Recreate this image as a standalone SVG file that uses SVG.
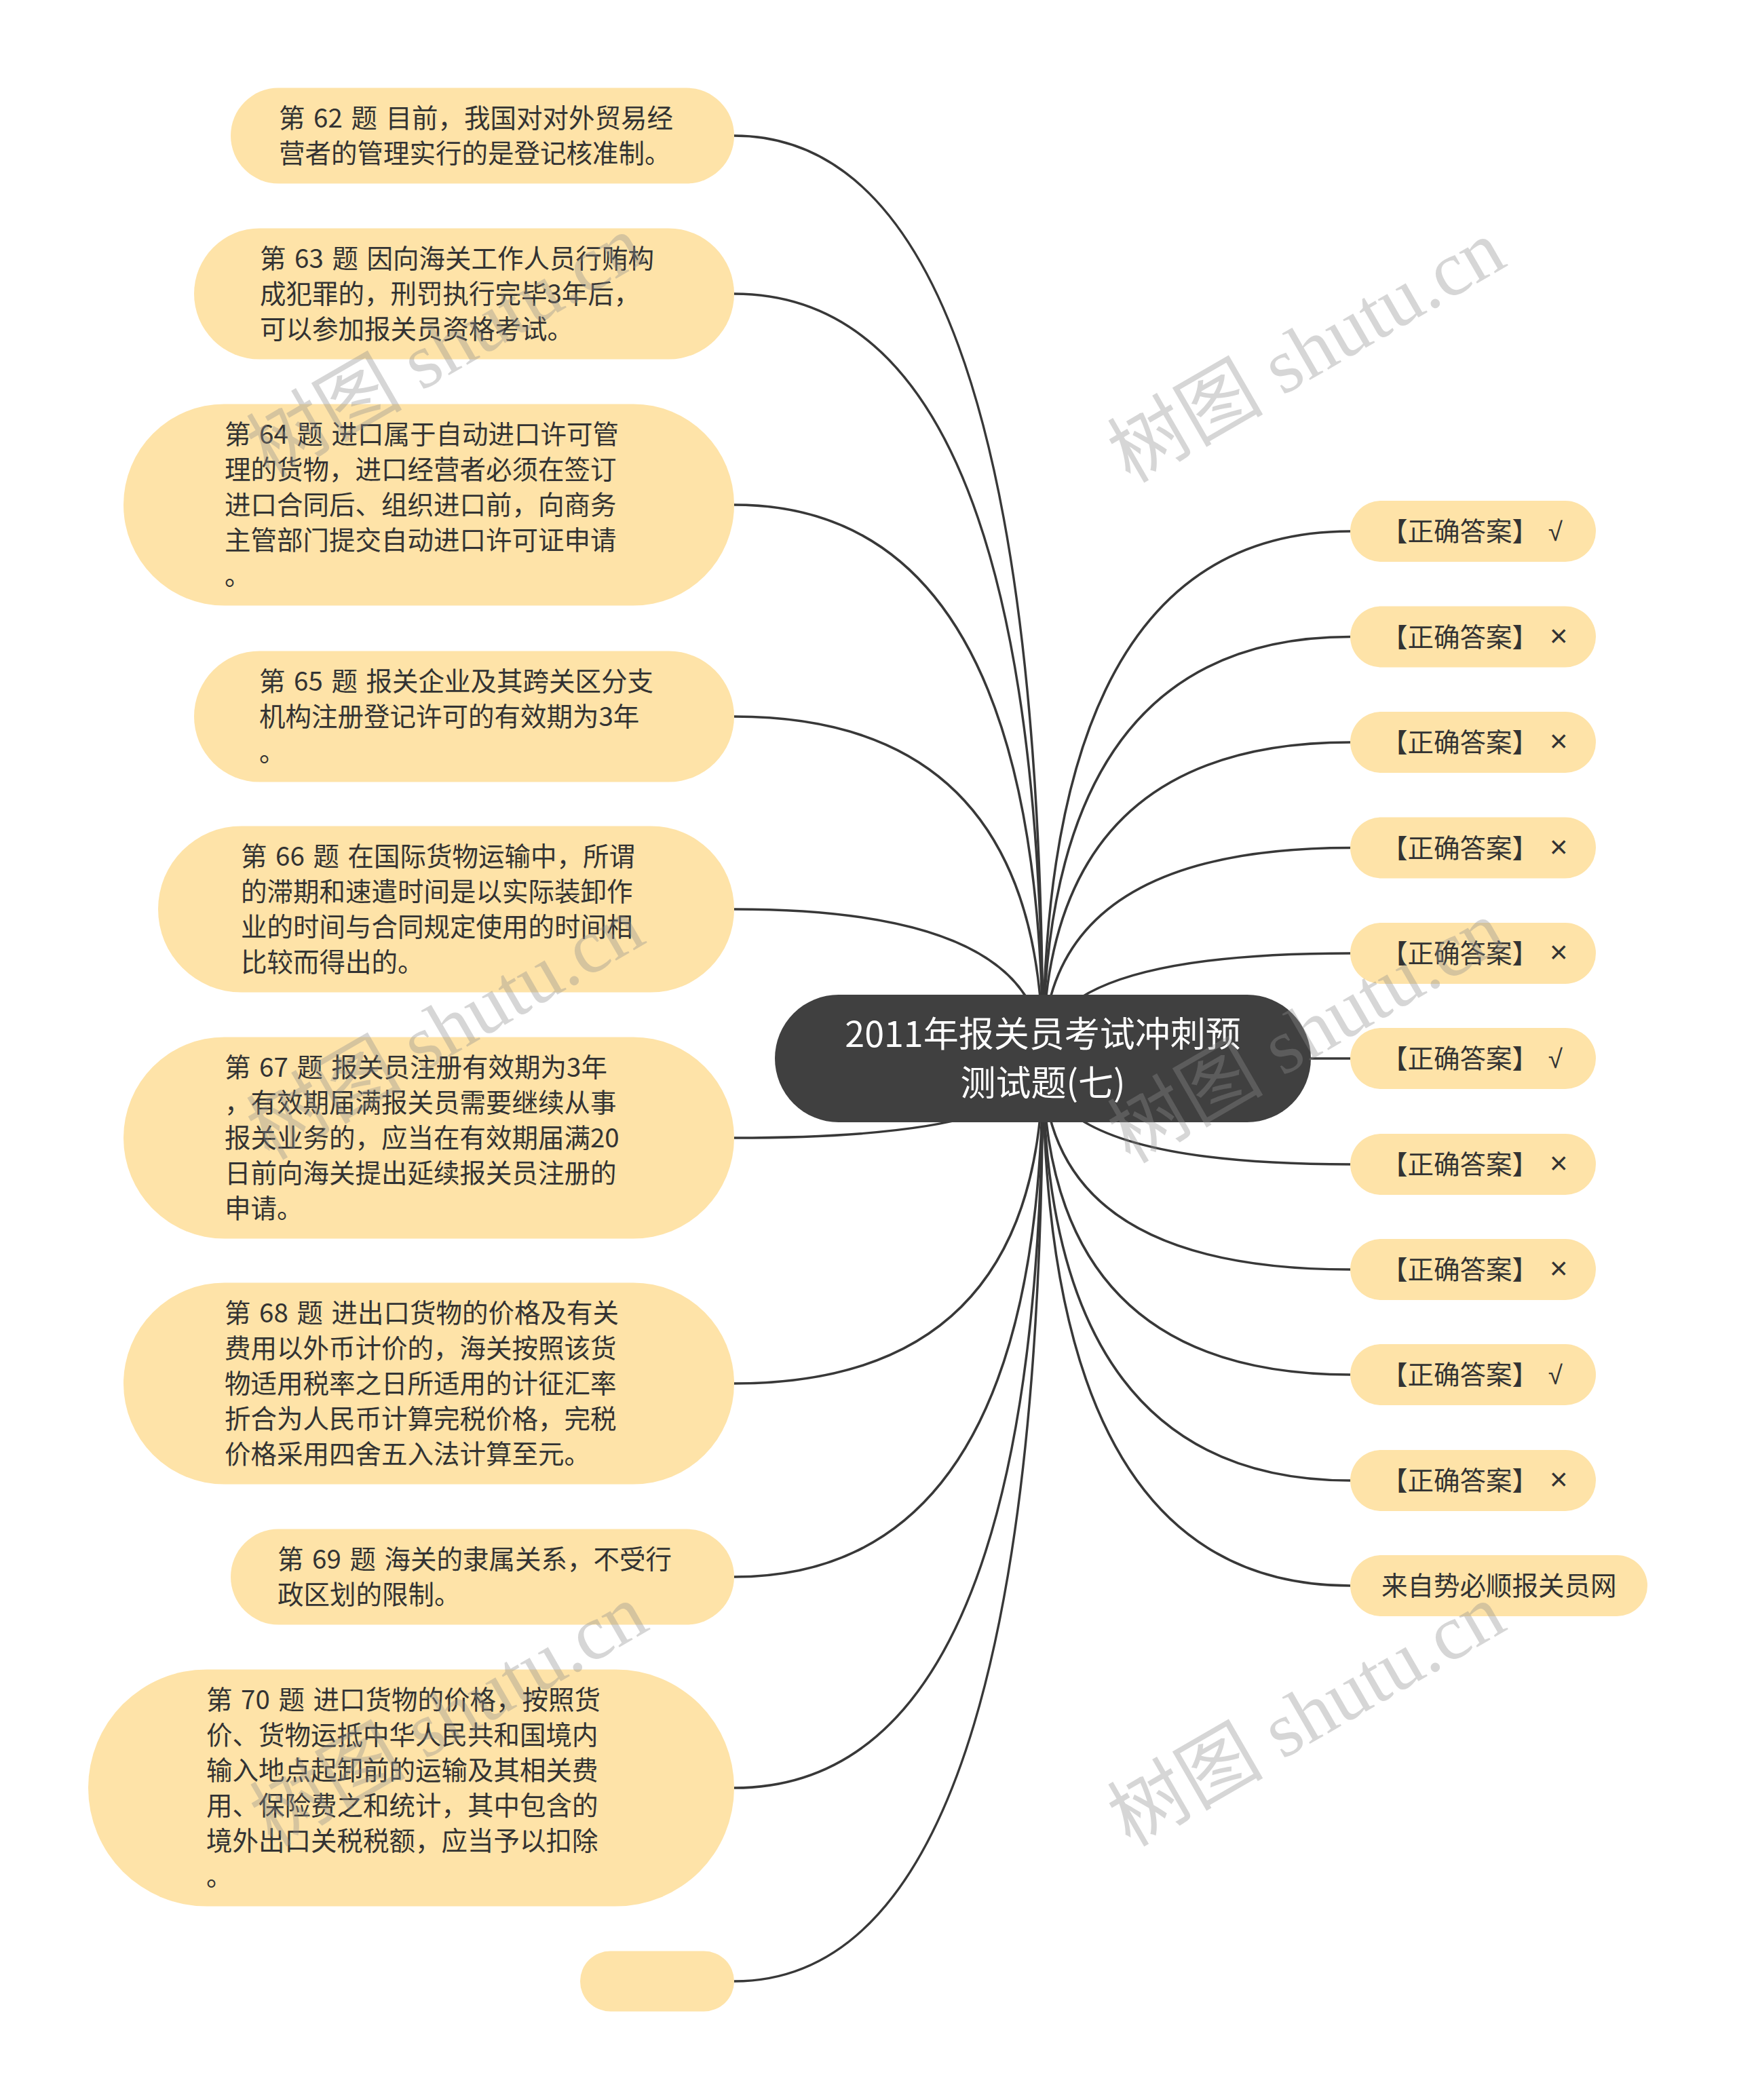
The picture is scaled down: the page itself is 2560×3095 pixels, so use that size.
<svg xmlns="http://www.w3.org/2000/svg" width="2560" height="3095" viewBox="0 0 2560 3095">
<style>
.bg{fill:#ffffff}
.sub{fill:#fee3a8}
.root{fill:#404040}
.t{font-family:"Noto Sans CJK SC","Noto Sans",sans-serif;font-size:38.5px;fill:#333333;word-spacing:4px}
.m{font-family:"Liberation Sans","DejaVu Sans",sans-serif}
.x{font-family:"Liberation Sans","DejaVu Sans",sans-serif;font-size:46px}
.rt{font-family:"Noto Sans CJK SC","Noto Sans",sans-serif;font-size:52px;fill:#ffffff;text-anchor:middle}
.c{fill:none;stroke:#383838;stroke-width:3.5}
.wm{font-family:"Liberation Serif","Noto Sans CJK SC",serif;font-size:115px;fill:#8c8c8c;fill-opacity:0.36;text-anchor:middle}
</style>
<rect class="bg" x="0" y="0" width="2560" height="3095"/>
<g id="connectors">
<path class="c" d="M1537,1560 Q1537,200 1082,200"/>
<path class="c" d="M1537,1560 Q1537,433 1082,433"/>
<path class="c" d="M1537,1560 Q1537,744 1082,744"/>
<path class="c" d="M1537,1560 Q1537,1056 1082,1056"/>
<path class="c" d="M1537,1560 Q1537,1340 1082,1340"/>
<path class="c" d="M1537,1560 Q1537,1677 1082,1677"/>
<path class="c" d="M1537,1560 Q1537,2039 1082,2039"/>
<path class="c" d="M1537,1560 Q1537,2324 1082,2324"/>
<path class="c" d="M1537,1560 Q1537,2635 1082,2635"/>
<path class="c" d="M1537,1560 Q1537,2920 1082,2920"/>
<path class="c" d="M1537,1560 Q1537,783 1990,783"/>
<path class="c" d="M1537,1560 Q1537,938.5 1990,938.5"/>
<path class="c" d="M1537,1560 Q1537,1094 1990,1094"/>
<path class="c" d="M1537,1560 Q1537,1249.5 1990,1249.5"/>
<path class="c" d="M1537,1560 Q1537,1405 1990,1405"/>
<path class="c" d="M1537,1560 L1990,1560"/>
<path class="c" d="M1537,1560 Q1537,1716 1990,1716"/>
<path class="c" d="M1537,1560 Q1537,1871 1990,1871"/>
<path class="c" d="M1537,1560 Q1537,2026 1990,2026"/>
<path class="c" d="M1537,1560 Q1537,2182 1990,2182"/>
<path class="c" d="M1537,1560 Q1537,2337 1990,2337"/>
</g>
<g id="root">
<rect class="root" x="1142" y="1466" width="790" height="188" rx="94"/>
<text class="rt"><tspan x="1537" y="1543">2011年报关员考试冲刺预</tspan><tspan x="1537" y="1615">测试题(七)</tspan></text>
</g>
<g id="n62">
<rect class="sub" x="340" y="129.5" width="742" height="141" rx="70.5"/>
<text class="t"><tspan x="411" y="188">第 62 题 目前，我国对对外贸易经</tspan><tspan x="411" y="240">营者的管理实行的是登记核准制。</tspan></text>
</g>
<g id="n63">
<rect class="sub" x="286" y="336.5" width="796" height="193" rx="96.5"/>
<text class="t"><tspan x="383" y="395">第 63 题 因向海关工作人员行贿构</tspan><tspan x="383" y="447">成犯罪的，刑罚执行完毕3年后，</tspan><tspan x="383" y="499">可以参加报关员资格考试。</tspan></text>
</g>
<g id="n64">
<rect class="sub" x="182" y="595.5" width="900" height="297" rx="148.5"/>
<text class="t"><tspan x="331" y="654">第 64 题 进口属于自动进口许可管</tspan><tspan x="331" y="706">理的货物，进口经营者必须在签订</tspan><tspan x="331" y="758">进口合同后、组织进口前，向商务</tspan><tspan x="331" y="810">主管部门提交自动进口许可证申请</tspan><tspan x="331" y="862">。</tspan></text>
</g>
<g id="n65">
<rect class="sub" x="286" y="959.5" width="796" height="193" rx="96.5"/>
<text class="t"><tspan x="382" y="1018">第 65 题 报关企业及其跨关区分支</tspan><tspan x="382" y="1070">机构注册登记许可的有效期为3年</tspan><tspan x="382" y="1122">。</tspan></text>
</g>
<g id="n66">
<rect class="sub" x="233" y="1217.5" width="849" height="245" rx="122.5"/>
<text class="t"><tspan x="355" y="1276">第 66 题 在国际货物运输中，所谓</tspan><tspan x="355" y="1328">的滞期和速遣时间是以实际装卸作</tspan><tspan x="355" y="1380">业的时间与合同规定使用的时间相</tspan><tspan x="355" y="1432">比较而得出的。</tspan></text>
</g>
<g id="n67">
<rect class="sub" x="182" y="1528.5" width="900" height="297" rx="148.5"/>
<text class="t"><tspan x="331" y="1587">第 67 题 报关员注册有效期为3年</tspan><tspan x="331" y="1639">，有效期届满报关员需要继续从事</tspan><tspan x="331" y="1691">报关业务的，应当在有效期届满20</tspan><tspan x="331" y="1743">日前向海关提出延续报关员注册的</tspan><tspan x="331" y="1795">申请。</tspan></text>
</g>
<g id="n68">
<rect class="sub" x="182" y="1890.5" width="900" height="297" rx="148.5"/>
<text class="t"><tspan x="331" y="1949">第 68 题 进出口货物的价格及有关</tspan><tspan x="331" y="2001">费用以外币计价的，海关按照该货</tspan><tspan x="331" y="2053">物适用税率之日所适用的计征汇率</tspan><tspan x="331" y="2105">折合为人民币计算完税价格，完税</tspan><tspan x="331" y="2157">价格采用四舍五入法计算至元。</tspan></text>
</g>
<g id="n69">
<rect class="sub" x="340" y="2253.5" width="742" height="141" rx="70.5"/>
<text class="t"><tspan x="409" y="2312">第 69 题 海关的隶属关系，不受行</tspan><tspan x="409" y="2364">政区划的限制。</tspan></text>
</g>
<g id="n70">
<rect class="sub" x="130" y="2460.5" width="952" height="349" rx="174.5"/>
<text class="t"><tspan x="304" y="2519">第 70 题 进口货物的价格，按照货</tspan><tspan x="304" y="2571">价、货物运抵中华人民共和国境内</tspan><tspan x="304" y="2623">输入地点起卸前的运输及其相关费</tspan><tspan x="304" y="2675">用、保险费之和统计，其中包含的</tspan><tspan x="304" y="2727">境外出口关税税额，应当予以扣除</tspan><tspan x="304" y="2779">。</tspan></text>
</g>
<g id="n-empty">
<rect class="sub" x="855" y="2875.5" width="227" height="89" rx="44.5"/>
</g>
<g id="a1"><rect class="sub" x="1990" y="738" width="362" height="90" rx="45"/><text class="t" x="2036" y="797">【正确答案】<tspan class="m"> √</tspan></text></g>
<g id="a2"><rect class="sub" x="1990" y="893.5" width="362" height="90" rx="45"/><text class="t" x="2036" y="952.5">【正确答案】<tspan class="x"> ×</tspan></text></g>
<g id="a3"><rect class="sub" x="1990" y="1049" width="362" height="90" rx="45"/><text class="t" x="2036" y="1108">【正确答案】<tspan class="x"> ×</tspan></text></g>
<g id="a4"><rect class="sub" x="1990" y="1204.5" width="362" height="90" rx="45"/><text class="t" x="2036" y="1263.5">【正确答案】<tspan class="x"> ×</tspan></text></g>
<g id="a5"><rect class="sub" x="1990" y="1360" width="362" height="90" rx="45"/><text class="t" x="2036" y="1419">【正确答案】<tspan class="x"> ×</tspan></text></g>
<g id="a6"><rect class="sub" x="1990" y="1515" width="362" height="90" rx="45"/><text class="t" x="2036" y="1574">【正确答案】<tspan class="m"> √</tspan></text></g>
<g id="a7"><rect class="sub" x="1990" y="1671" width="362" height="90" rx="45"/><text class="t" x="2036" y="1730">【正确答案】<tspan class="x"> ×</tspan></text></g>
<g id="a8"><rect class="sub" x="1990" y="1826" width="362" height="90" rx="45"/><text class="t" x="2036" y="1885">【正确答案】<tspan class="x"> ×</tspan></text></g>
<g id="a9"><rect class="sub" x="1990" y="1981" width="362" height="90" rx="45"/><text class="t" x="2036" y="2040">【正确答案】<tspan class="m"> √</tspan></text></g>
<g id="a10"><rect class="sub" x="1990" y="2137" width="362" height="90" rx="45"/><text class="t" x="2036" y="2196">【正确答案】<tspan class="x"> ×</tspan></text></g>
<g id="src"><rect class="sub" x="1990" y="2292" width="438" height="90" rx="45"/><text class="t" x="2036" y="2351">来自势必顺报关员网</text></g>
<g id="watermarks">
<text class="wm" transform="translate(656,510) rotate(-30)" y="40">树图 shutu.cn</text>
<text class="wm" transform="translate(1925,517) rotate(-30)" y="40">树图 shutu.cn</text>
<text class="wm" transform="translate(656,1515) rotate(-30)" y="40">树图 shutu.cn</text>
<text class="wm" transform="translate(1925,1520) rotate(-30)" y="40">树图 shutu.cn</text>
<text class="wm" transform="translate(661,2527) rotate(-30)" y="40">树图 shutu.cn</text>
<text class="wm" transform="translate(1925,2527) rotate(-30)" y="40">树图 shutu.cn</text>
</g>
</svg>
